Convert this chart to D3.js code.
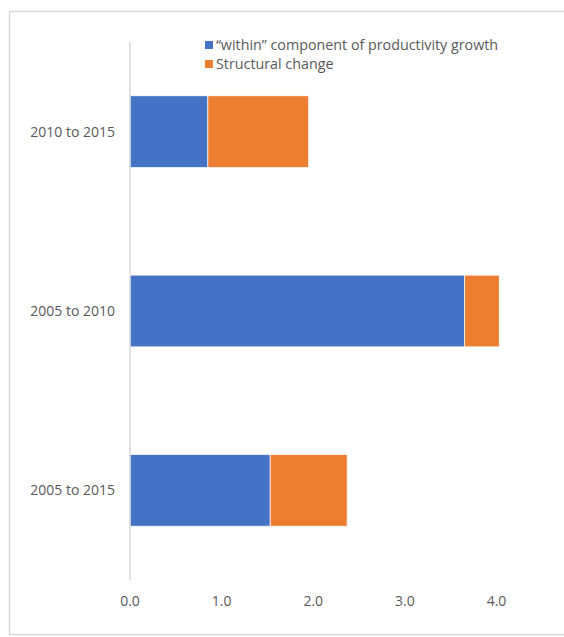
<!DOCTYPE html>
<html>
<head>
<meta charset="utf-8">
<script src="https://cdn.jsdelivr.net/npm/d3@7"></script>
<style>
  html, body { margin: 0; background: #fff; overflow: hidden; }
  svg { display: block; font-family: "Open Sans", "Liberation Sans", sans-serif; }
</style>
</head>
<body>
<script>
// data
const categories = ["2010 to 2015", "2005 to 2010", "2005 to 2015"];
const withinValues = [0.85, 3.65, 1.53];
const structuralValues = [1.10, 0.38, 0.84];
const seriesNames = ["\u2018\u2018within\u201d component of productivity growth", "Structural change"];
const seriesColors = ["#4472C4", "#ED7D31"];
const xTicks = [0, 1, 2, 3, 4];

const W = 564, H = 637;
const margin = {top: 42, right: 67, bottom: 57, left: 130};

const svg = d3.select("body").append("svg")
    .attr("width", W)
    .attr("height", H);

// chart frame (right side runs off the picture)
svg.append("path")
    .attr("d", "M" + W + ",11.5 H9.5 V634.5 H" + W)
    .attr("fill", "none")
    .attr("stroke", "#d9d9d9")
    .attr("stroke-width", 1.5);

const x = d3.scaleLinear()
    .domain([0, 4])
    .range([margin.left, 496.5]);

const y = d3.scaleBand()
    .domain(categories)
    .range([margin.top, H - margin.bottom])
    .paddingInner(0.6)
    .paddingOuter(0.3);

// stack the two series
const rows = categories.map((c, i) => ({cat: c, within: withinValues[i], structural: structuralValues[i]}));
const stack = d3.stack().keys(["within", "structural"]);
const layers = stack(rows);

svg.append("g")
  .selectAll("g")
  .data(layers)
  .join("g")
    .attr("fill", (d, i) => seriesColors[i])
  .selectAll("rect")
  .data(d => d)
  .join("rect")
    .attr("x", d => x(d[0]))
    .attr("y", d => y(d.data.cat))
    .attr("width", d => x(d[1]) - x(d[0]))
    .attr("height", y.bandwidth())
    .attr("stroke", "#fff")
    .attr("stroke-width", 0.75);

// vertical axis line
svg.append("line")
    .attr("x1", x(0)).attr("x2", x(0))
    .attr("y1", margin.top).attr("y2", H - margin.bottom)
    .attr("stroke", "#d9d9d9")
    .attr("stroke-width", 1.5);

// category labels
svg.append("g")
  .selectAll("text")
  .data(categories)
  .join("text")
    .attr("x", 115)
    .attr("y", d => y(d) + y.bandwidth() / 2)
    .attr("dy", "0.35em")
    .attr("text-anchor", "end")
    .attr("fill", "#595959")
    .style("font-size", "14px")
    .text(d => d);

// x axis tick labels
svg.append("g")
  .selectAll("text")
  .data(xTicks)
  .join("text")
    .attr("x", d => x(d))
    .attr("y", 601)
    .attr("dy", "0.35em")
    .attr("text-anchor", "middle")
    .attr("fill", "#595959")
    .style("font-size", "14px")
    .text(d => d3.format(".1f")(d));

// legend
const legend = svg.append("g")
  .selectAll("g")
  .data(seriesNames)
  .join("g")
    .attr("transform", (d, i) => "translate(205," + (45 + i * 19) + ")");

legend.append("rect")
    .attr("x", 0).attr("y", -4)
    .attr("width", 8).attr("height", 8)
    .attr("fill", (d, i) => seriesColors[i]);

legend.append("text")
    .attr("x", 11)
    .attr("dy", "0.35em")
    .attr("fill", "#595959")
    .style("font-size", "14.3px")
    .text(d => d);
</script>
</body>
</html>
